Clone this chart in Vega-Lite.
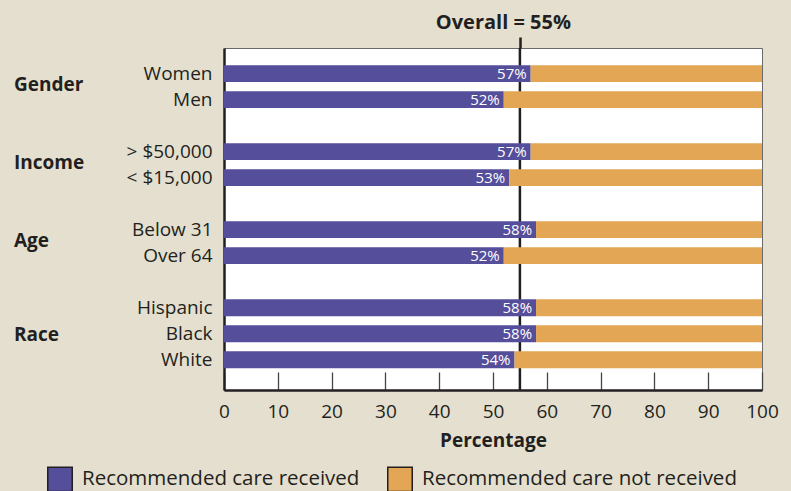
{
  "$schema": "https://vega.github.io/schema/vega-lite/v6.json",
  "width": 538,
  "height": 342,
  "autosize": {"type": "none"},
  "padding": {"left": 224, "top": 48, "right": 29, "bottom": 101},
  "background": "#e4dfcf",
  "config": {
    "font": "Open Sans",
    "view": {"fill": "#ffffff", "stroke": "#6a6a6a", "strokeWidth": 1},
    "axis": {"labelColor": "#231f20", "titleColor": "#231f20", "labelFont": "Open Sans", "titleFont": "Open Sans"},
    "legend": {"labelFont": "Open Sans", "labelColor": "#231f20"},
    "text": {"font": "Open Sans"}
  },
  "datasets": {
    "rates": [
      {"group": "Gender", "cat": "Women", "care": "Recommended care received", "pct": 57},
      {"group": "Gender", "cat": "Women", "care": "Recommended care not received", "pct": 43},
      {"group": "Gender", "cat": "Men", "care": "Recommended care received", "pct": 52},
      {"group": "Gender", "cat": "Men", "care": "Recommended care not received", "pct": 48},
      {"group": "Income", "cat": "> $50,000", "care": "Recommended care received", "pct": 57},
      {"group": "Income", "cat": "> $50,000", "care": "Recommended care not received", "pct": 43},
      {"group": "Income", "cat": "< $15,000", "care": "Recommended care received", "pct": 53},
      {"group": "Income", "cat": "< $15,000", "care": "Recommended care not received", "pct": 47},
      {"group": "Age", "cat": "Below 31", "care": "Recommended care received", "pct": 58},
      {"group": "Age", "cat": "Below 31", "care": "Recommended care not received", "pct": 42},
      {"group": "Age", "cat": "Over 64", "care": "Recommended care received", "pct": 52},
      {"group": "Age", "cat": "Over 64", "care": "Recommended care not received", "pct": 48},
      {"group": "Race", "cat": "Hispanic", "care": "Recommended care received", "pct": 58},
      {"group": "Race", "cat": "Hispanic", "care": "Recommended care not received", "pct": 42},
      {"group": "Race", "cat": "Black", "care": "Recommended care received", "pct": 58},
      {"group": "Race", "cat": "Black", "care": "Recommended care not received", "pct": 42},
      {"group": "Race", "cat": "White", "care": "Recommended care received", "pct": 54},
      {"group": "Race", "cat": "White", "care": "Recommended care not received", "pct": 46}
    ],
    "groups2": [
      {"group": "Gender", "anchor": "Women"},
      {"group": "Income", "anchor": "> $50,000"},
      {"group": "Age", "anchor": "Below 31"}
    ],
    "groups3": [
      {"group": "Race", "anchor": "Black"}
    ],
    "overall": [
      {"overall": 55}
    ]
  },
  "layer": [
    {
      "data": {"name": "overall"},
      "mark": {"type": "rule", "color": "#231f20", "strokeWidth": 2.5},
      "encoding": {
        "x": {
          "field": "overall",
          "type": "quantitative",
          "scale": {"domain": [0, 100], "nice": false},
          "axis": {
            "orient": "top",
            "values": [55],
            "domain": false,
            "grid": false,
            "ticks": true,
            "tickSize": 11,
            "tickWidth": 2.5,
            "tickColor": "#231f20",
            "labelExpr": "'Overall = ' + datum.label + '%'",
            "labelFontSize": 20,
            "labelFontWeight": "bold",
            "labelPadding": 5,
            "labelOffset": -17,
            "title": null
          }
        }
      }
    },
    {
      "data": {"name": "rates"},
      "mark": {"type": "bar"},
      "encoding": {
        "y": {
          "field": "cat",
          "type": "nominal",
          "scale": {
            "domain": ["Women", "Men", " ", "> $50,000", "< $15,000", "  ", "Below 31", "Over 64", "   ", "Hispanic", "Black", "White"],
            "paddingInner": 0.35,
            "paddingOuter": 0.75,
            "align": 0.44
          },
          "axis": {
            "title": null,
            "ticks": false,
            "domain": true,
            "domainColor": "#231f20",
            "domainWidth": 2.5,
            "labelFontSize": 19,
            "labelPadding": 12,
            "labelLimit": 300
          }
        },
        "x": {
          "field": "pct",
          "type": "quantitative",
          "stack": "zero",
          "scale": {"domain": [0, 100], "nice": false},
          "axis": {
            "orient": "bottom",
            "values": [0, 10, 20, 30, 40, 50, 60, 70, 80, 90, 100],
            "grid": false,
            "domainColor": "#231f20",
            "domainWidth": 2.5,
            "tickSize": -18,
            "tickColor": "#444444",
            "tickWidth": 1.3,
            "labelFontSize": 19,
            "labelPadding": 30,
            "labelFlush": false,
            "title": "Percentage",
            "titleFontSize": 19,
            "titleFontWeight": "bold",
            "titlePadding": 10
          }
        },
        "color": {
          "field": "care",
          "type": "nominal",
          "scale": {
            "domain": ["Recommended care received", "Recommended care not received"],
            "range": ["#554e9a", "#e2a654"]
          },
          "legend": {
            "title": null,
            "orient": "none",
            "legendX": -177,
            "legendY": 418,
            "direction": "horizontal",
            "symbolType": "square",
            "symbolSize": 600,
            "symbolStrokeColor": "#231f20",
            "symbolStrokeWidth": 1.5,
            "symbolOpacity": 1,
            "labelFontSize": 20.5,
            "labelOffset": 9,
            "labelLimit": 400,
            "columnPadding": 24
          }
        },
        "order": {"field": "care", "sort": "descending"}
      }
    },
    {
      "data": {"name": "rates"},
      "transform": [{"filter": "datum.care === 'Recommended care received'"}],
      "mark": {"type": "text", "align": "right", "baseline": "middle", "dx": -4, "fontSize": 15, "color": "#ffffff"},
      "encoding": {
        "y": {"field": "cat", "type": "nominal"},
        "x": {"field": "pct", "type": "quantitative", "axis": null},
        "text": {"value": {"expr": "datum.pct + '%'"}}
      }
    },
    {
      "data": {"name": "groups2"},
      "mark": {"type": "text", "align": "left", "baseline": "middle", "dx": -210, "dy": 11, "fontSize": 19, "fontWeight": "bold", "color": "#231f20"},
      "encoding": {
        "y": {"field": "anchor", "type": "nominal"},
        "x": {"datum": 0, "type": "quantitative", "axis": null},
        "text": {"field": "group"}
      }
    },
    {
      "data": {"name": "groups3"},
      "mark": {"type": "text", "align": "left", "baseline": "middle", "dx": -210, "dy": 1, "fontSize": 19, "fontWeight": "bold", "color": "#231f20"},
      "encoding": {
        "y": {"field": "anchor", "type": "nominal"},
        "x": {"datum": 0, "type": "quantitative", "axis": null},
        "text": {"field": "group"}
      }
    }
  ],
  "resolve": {"axis": {"x": "independent"}}
}
